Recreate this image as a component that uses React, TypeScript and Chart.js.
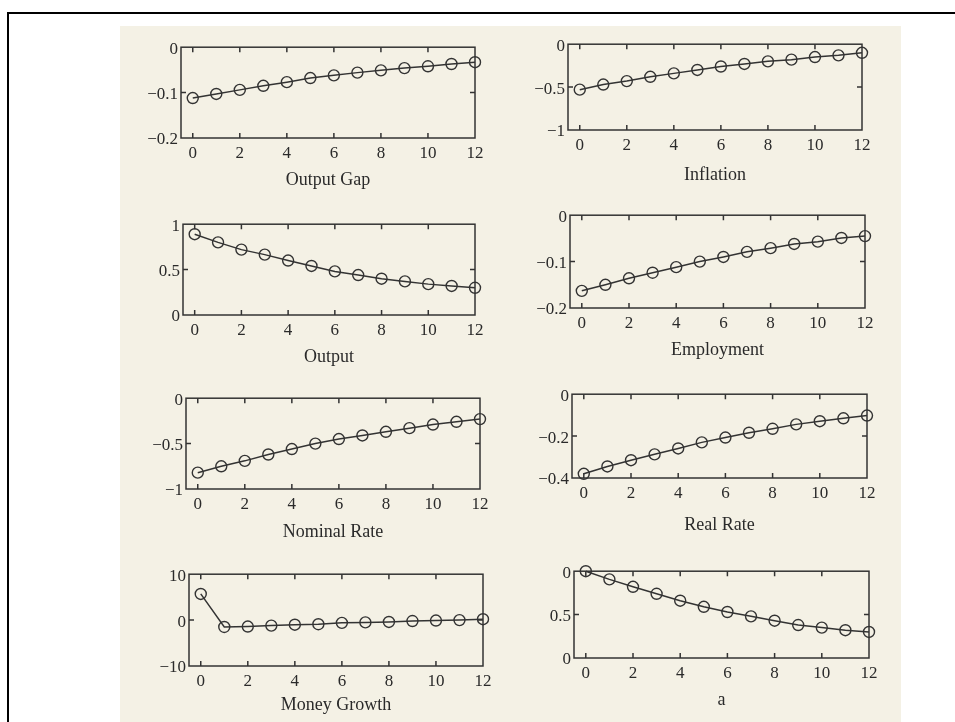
import React, { useEffect, useRef } from "react";
import { Chart, registerables } from "chart.js";

Chart.register(...registerables);

// ---------- data ----------
const periods = [0, 1, 2, 3, 4, 5, 6, 7, 8, 9, 10, 11, 12];
const xTickValues = [0, 2, 4, 6, 8, 10, 12];

const outputGap = [-0.112, -0.103, -0.094, -0.085, -0.077, -0.068, -0.062, -0.056, -0.051, -0.046, -0.042, -0.037, -0.033];
const inflation = [-0.53, -0.47, -0.43, -0.38, -0.34, -0.30, -0.26, -0.23, -0.20, -0.18, -0.15, -0.13, -0.10];
const output = [0.89, 0.80, 0.72, 0.665, 0.60, 0.54, 0.48, 0.44, 0.40, 0.37, 0.34, 0.32, 0.30];
const employment = [-0.163, -0.150, -0.136, -0.124, -0.112, -0.100, -0.090, -0.079, -0.071, -0.062, -0.057, -0.049, -0.045];
const nominalRate = [-0.82, -0.75, -0.69, -0.62, -0.56, -0.50, -0.45, -0.41, -0.37, -0.33, -0.29, -0.26, -0.23];
const realRate = [-0.38, -0.345, -0.315, -0.287, -0.259, -0.23, -0.207, -0.184, -0.165, -0.144, -0.129, -0.115, -0.102];
const moneyGrowth = [5.7, -1.5, -1.4, -1.2, -1.0, -0.9, -0.6, -0.5, -0.4, -0.2, -0.1, 0.0, 0.2];
const shockA = [1.0, 0.906, 0.82, 0.74, 0.66, 0.59, 0.53, 0.48, 0.43, 0.38, 0.35, 0.32, 0.30];

const titles = ["Output Gap", "Inflation", "Output", "Employment", "Nominal Rate", "Real Rate", "Money Growth", "a"];

// y ticks (bottom, middle, top) and their printed labels
const yTickValues = [
  [-0.2, -0.1, 0],
  [-1, -0.5, 0],
  [0, 0.5, 1],
  [-0.2, -0.1, 0],
  [-1, -0.5, 0],
  [-0.4, -0.2, 0],
  [-10, 0, 10],
  [0, 0.5, 1],
];
const yTickLabels = [
  ["\u22120.2", "\u22120.1", "0"],
  ["\u22121", "\u22120.5", "0"],
  ["0", "0.5", "1"],
  ["\u22120.2", "\u22120.1", "0"],
  ["\u22121", "\u22120.5", "0"],
  ["\u22120.4", "\u22120.2", "0"],
  ["\u221210", "0", "10"],
  ["0", "0.5", "0"],
];
const seriesList = [outputGap, inflation, output, employment, nominalRate, realRate, moneyGrowth, shockA];

// ---------- layout (pixel frames of each plot area: left, top, right, bottom) ----------
const frames = [
  [181, 46, 475, 138],
  [568, 43, 862, 130],
  [183, 223, 475, 315],
  [570, 214, 865, 308],
  [186, 397, 480, 489],
  [572, 393, 867, 478],
  [189, 573, 483, 666],
  [574, 570, 869, 658],
];
const titleOffsets = [42, 45, 42, 42, 43, 47, 39, 42];

const INK = "#333333";
const TEXT = "#2a2a2a";
const FONT_FAMILY = "'Liberation Serif', 'DejaVu Serif', serif";
const Y_W = 55;
const PAD_T = 12;
const PAD_R = 22;
const X_H = 24;
const PAD_B = 40;

const framePlugin = {
  id: "panelFrame",
  beforeDatasetsDraw(chart: any, _args: any, opts: any) {
    const { ctx, chartArea } = chart;
    const { left, top, right, bottom } = chartArea;
    const xs = chart.scales.x;
    const ys = chart.scales.y;
    ctx.save();
    ctx.strokeStyle = INK;
    ctx.lineWidth = 1.5;
    ctx.strokeRect(left, top, right - left, bottom - top);
    const tl = 5;
    ctx.beginPath();
    for (const v of xTickValues) {
      const px = xs.getPixelForValue(v);
      if (px > left + 2 && px < right - 2) {
        ctx.moveTo(px, bottom);
        ctx.lineTo(px, bottom - tl);
        ctx.moveTo(px, top);
        ctx.lineTo(px, top + tl);
      }
    }
    const py = ys.getPixelForValue(opts.yMid);
    ctx.moveTo(left, py);
    ctx.lineTo(left + tl, py);
    ctx.moveTo(right, py);
    ctx.lineTo(right - tl, py);
    ctx.stroke();
    ctx.restore();
  },
  afterDraw(chart: any, _args: any, opts: any) {
    const { ctx, chartArea } = chart;
    ctx.save();
    ctx.fillStyle = TEXT;
    ctx.font = `18px ${FONT_FAMILY}`;
    ctx.textAlign = "center";
    ctx.textBaseline = "middle";
    ctx.fillText(opts.title, (chartArea.left + chartArea.right) / 2, chartArea.bottom + opts.dy);
    ctx.restore();
  },
};

function Panel({ idx }: { idx: number }) {
  const ref = useRef<HTMLCanvasElement | null>(null);
  const [L, T, R, B] = frames[idx];
  const width = Y_W + (R - L) + PAD_R;
  const height = PAD_T + (B - T) + X_H + PAD_B;

  useEffect(() => {
    const values = seriesList[idx];
    const yt = yTickValues[idx];
    const yl = yTickLabels[idx];
    const tickFont = { family: FONT_FAMILY, size: 17 };
    const chart = new Chart(ref.current as HTMLCanvasElement, {
      type: "line",
      data: {
        datasets: [
          {
            data: periods.map((x, i) => ({ x, y: values[i] })),
            borderColor: INK,
            borderWidth: 1.5,
            pointRadius: 5.5,
            pointBorderWidth: 1.4,
            pointBackgroundColor: "rgba(0,0,0,0)",
            pointBorderColor: INK,
            fill: false,
            tension: 0,
            clip: false,
          } as any,
        ],
      },
      options: {
        responsive: false,
        animation: false,
        devicePixelRatio: 1,
        layout: { padding: { left: 0, top: PAD_T, right: PAD_R, bottom: PAD_B } },
        plugins: {
          legend: { display: false },
          tooltip: { enabled: false },
          panelFrame: { title: titles[idx], dy: titleOffsets[idx], yMid: yt[1] },
        } as any,
        scales: {
          x: {
            type: "linear",
            min: -0.5,
            max: 12,
            grid: { display: false, drawTicks: false },
            border: { display: false },
            afterBuildTicks: (s: any) => {
              s.ticks = xTickValues.map((v) => ({ value: v }));
            },
            afterFit: (s: any) => {
              s.height = X_H;
            },
            ticks: {
              padding: 5,
              font: tickFont,
              color: TEXT,
              maxRotation: 0,
              autoSkip: false,
              callback: (v: any) => String(v),
            },
          },
          y: {
            type: "linear",
            min: yt[0],
            max: yt[2],
            grid: { display: false, drawTicks: false },
            border: { display: false },
            afterBuildTicks: (s: any) => {
              s.ticks = yt.map((v) => ({ value: v }));
            },
            afterFit: (s: any) => {
              s.width = Y_W;
            },
            ticks: {
              padding: 3,
              labelOffset: 2,
              font: tickFont,
              color: TEXT,
              autoSkip: false,
              callback: (_v: any, i: number) => yl[i],
            },
          },
        } as any,
      },
      plugins: [framePlugin as any],
    });
    return () => chart.destroy();
  }, [idx]);

  return (
    <canvas
      ref={ref}
      width={width}
      height={height}
      style={{ position: "absolute", left: L - Y_W, top: T - PAD_T, width, height }}
    />
  );
}

export default function App() {
  return (
    <div
      style={{
        position: "fixed",
        left: 0,
        top: 0,
        width: 955,
        height: 722,
        overflow: "hidden",
        background: "#ffffff",
      }}
    >
      <div
        style={{
          position: "absolute",
          left: 7,
          top: 12,
          width: 1000,
          height: 1000,
          border: "2px solid #000",
          boxSizing: "border-box",
        }}
      />
      <div
        style={{
          position: "absolute",
          left: 120,
          top: 26,
          width: 781,
          height: 700,
          background: "#f4f1e5",
        }}
      />
      {titles.map((_, i) => (
        <Panel key={i} idx={i} />
      ))}
    </div>
  );
}
